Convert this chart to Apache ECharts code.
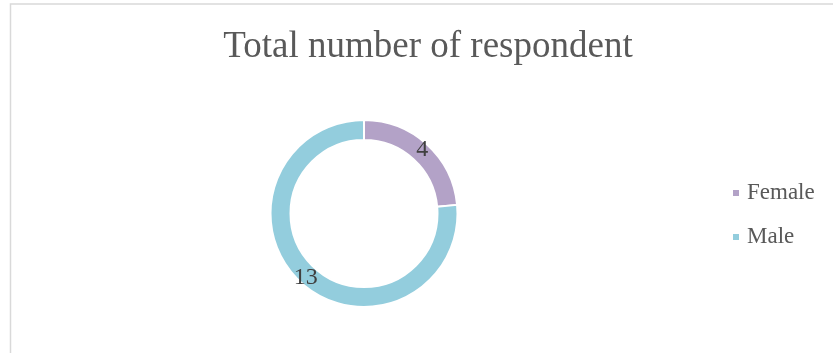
<!DOCTYPE html>
<html>
<head>
<meta charset="utf-8">
<script src="https://cdn.jsdelivr.net/npm/echarts@6/dist/echarts.min.js"></script>
<style>
  html, body { margin: 0; padding: 0; background: #fff; }
  #chart { width: 833px; height: 353px; }
</style>
</head>
<body>
<div id="chart"></div>
<script>
// Respondents by gender
const categories = ['Female', 'Male'];
const counts = [4, 13];
const colors = ['#b3a2c7', '#93cddd'];

const chart = echarts.init(document.getElementById('chart'));
const serif = '"Liberation Serif", "Times New Roman", serif';

chart.setOption({
  backgroundColor: '#fff',
  animation: false,
  title: {
    text: 'Total number of respondent',
    left: 423,
    top: 24,
    textAlign: 'center',
    textStyle: { fontFamily: serif, fontSize: 37, fontWeight: 'normal', color: '#595959' }
  },
  legend: {
    orient: 'vertical',
    left: 726,
    top: 176,
    itemWidth: 8,
    itemHeight: 8,
    itemGap: 20,
    icon: 'rect',
    textStyle: { fontFamily: serif, fontSize: 23, lineHeight: 24, color: '#595959', padding: [0, 0, 0, 2] },
    data: categories
  },
  graphic: [{
    type: 'rect',
    shape: { x: 10.5, y: 4, width: 840, height: 360 },
    style: { fill: 'none', stroke: '#d9d9d9', lineWidth: 1.5 },
    silent: true
  }],
  series: [{
    type: 'pie',
    center: [364, 213.5],
    radius: [73.5, 93.5],
    startAngle: 90,
    clockwise: true,
    avoidLabelOverlap: false,
    itemStyle: { borderColor: '#fff', borderWidth: 2 },
    label: {
      show: true,
      position: 'inside',
      formatter: '{c}',
      fontFamily: serif,
      fontSize: 24,
      color: '#404040'
    },
    labelLine: { show: false },
    data: categories.map((name, i) => ({
      name,
      value: counts[i],
      itemStyle: { color: colors[i] }
    }))
  }]
});
</script>
</body>
</html>
